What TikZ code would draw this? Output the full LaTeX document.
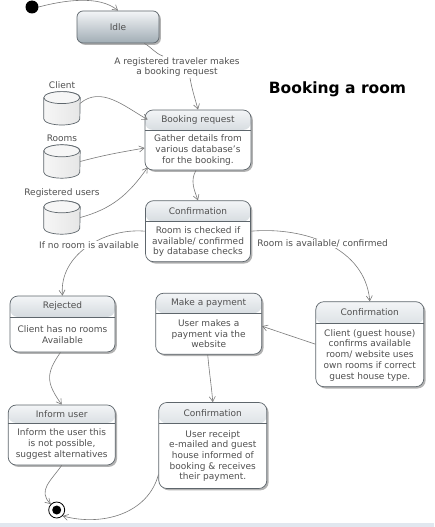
\documentclass[tikz,border=0pt]{standalone}
\usepackage{fontspec}
\setmainfont{DejaVu Sans}
\usetikzlibrary{positioning}
\usetikzlibrary{calc}
\usetikzlibrary{shadows}
\usetikzlibrary{arrows.meta}

\definecolor{boxline}{HTML}{5E666C}
\definecolor{hdtop}{HTML}{F3F5F7}
\definecolor{hdbot}{HTML}{A1ADB5}
\definecolor{txt}{HTML}{505050}
\definecolor{conn}{HTML}{7A7A7A}
\definecolor{dbbody}{HTML}{E6E6E6}
\definecolor{dbend}{HTML}{F6F6F6}
\definecolor{strip}{HTML}{E1E7EF}

% cylinder drawn on the anchors of a named node
\newcommand{\dbcyl}[1]{
	\draw[draw=boxline,line width=0.7pt,left color=dbend,right color=dbbody]
	([yshift=-6pt]#1.north west) -- ([yshift=6pt]#1.south west)
	arc[start angle=180,end angle=360,x radius=18pt,y radius=6pt]
	-- ([yshift=-6pt]#1.north east)
	arc[start angle=0,end angle=180,x radius=18pt,y radius=6pt] -- cycle;
	\draw[draw=boxline,line width=0.7pt,fill=dbend]
	([yshift=-6pt]#1.north west)
	arc[start angle=180,end angle=360,x radius=18pt,y radius=6pt]
	arc[start angle=0,end angle=180,x radius=18pt,y radius=6pt];
}

\begin{document}
\begin{tikzpicture}[x=1pt,y=1pt,
		state/.style={draw=boxline,line width=0.7pt,fill=white,rounded corners=8pt,inner sep=0pt,
				drop shadow={shadow xshift=1.8pt,shadow yshift=-1.8pt,fill=black,opacity=0.3},
				path picture={
						\shade[top color=hdtop,bottom color=hdbot] (path picture bounding box.north west) rectangle ([yshift=-#1]path picture bounding box.north east);
						\draw[boxline,line width=0.6pt] ([yshift=-#1]path picture bounding box.north west) -- ([yshift=-#1]path picture bounding box.north east);
					}},
		state/.default=20pt,
		idlebox/.style={draw=boxline,line width=0.7pt,rounded corners=6pt,top color=hdtop,bottom color=hdbot,
				drop shadow={shadow xshift=1.8pt,shadow yshift=-1.8pt,fill=black,opacity=0.3},
				text=txt,font=\fontsize{9}{10.7}\selectfont},
		stitle/.style={inner sep=0pt,text=txt,font=\fontsize{9}{10.7}\selectfont},
		sbody/.style={inner sep=0pt,align=center,text=txt,font=\fontsize{9}{10.7}\selectfont},
		db/.style={inner sep=0pt,minimum width=36pt,minimum height=33pt},
		dblabel/.style={inner sep=1pt,text=txt,font=\fontsize{9}{10.7}\selectfont},
		guard/.style={fill=white,inner sep=1pt,align=center,text=txt,font=\fontsize{9}{10.7}\selectfont},
		trans/.style={draw=conn,line width=0.6pt,-{Straight Barb[length=5pt,width=6pt]}}
	]
	\useasboundingbox (0,0) rectangle (434,-527);
	\fill[white] (0,0) rectangle (434,-527);
	\fill[strip] (0,-523) rectangle (434,-527);

	% start and idle
	\node[circle,fill=black,minimum size=13pt,inner sep=0pt] (init) at (32,-7) {};
	\node[idlebox,minimum width=82pt,minimum height=32pt] (idle) at (118,-27) {Idle};
	\node[guard] (req) at (177,-67) {A registered traveler makes\\a booking request};

	\node[font=\bfseries\fontsize{15.5}{18}\selectfont] (heading) at (337.5,-89) {Booking a room};

	% databases
	\node[db] (client) at (62,-108.3) {};
	\dbcyl{client}
	\node[dblabel,above=2pt of client] (clientL) {Client};
	\node[db] (rooms) at (62,-161.5) {};
	\dbcyl{rooms}
	\node[dblabel,above=2pt of rooms] (roomsL) {Rooms};
	\node[db] (users) at (62,-217.5) {};
	\dbcyl{users}
	\node[dblabel,above=2pt of users] (usersL) {Registered users};

	% states
	\node[state=20pt,minimum width=106pt,minimum height=60pt] (book) at (198,-140) {};
	\node[stitle] (bookT) at ([yshift=-10pt]book.north) {Booking request};
	\node[sbody] (bookB) at ($(book.south)!0.5!([yshift=-20pt]book.north)$)
	{Gather details from\\various database's\\for the booking.};

	\node[state=21pt,minimum width=105pt,minimum height=61pt] (check) at (198,-231.2) {};
	\node[stitle] (checkT) at ([yshift=-10.5pt]check.north) {Confirmation};
	\node[sbody] (checkB) at ($(check.south)!0.5!([yshift=-21pt]check.north)$)
	{Room is checked if\\available/ confirmed\\by database checks};

	\node[state=21pt,minimum width=105pt,minimum height=56pt] (rej) at (62.5,-324) {};
	\node[stitle] (rejT) at ([yshift=-10.5pt]rej.north) {Rejected};
	\node[sbody] (rejB) at ($(rej.south)!0.5!([yshift=-21pt]rej.north)$)
	{Client has no rooms\\Available};

	\node[state=20pt,minimum width=106pt,minimum height=61pt] (pay) at (208.7,-323.7) {};
	\node[stitle] (payT) at ([yshift=-10pt]pay.north) {Make a payment};
	\node[sbody] (payB) at ($(pay.south)!0.5!([yshift=-20pt]pay.north)$)
	{User makes a\\payment via the\\website};

	\node[state=22pt,minimum width=108pt,minimum height=85pt] (avail) at (369.8,-344.2) {};
	\node[stitle] (availT) at ([yshift=-11pt]avail.north) {Confirmation};
	\node[sbody] (availB) at ($(avail.south)!0.5!([yshift=-22pt]avail.north)$)
	{Client (guest house)\\confirms available\\room/ website uses\\own rooms if correct\\guest house type.};

	\node[state=18pt,minimum width=107pt,minimum height=60pt] (inform) at (61.7,-435) {};
	\node[stitle] (informT) at ([yshift=-9pt]inform.north) {Inform user};
	\node[sbody] (informB) at ($(inform.south)!0.5!([yshift=-18pt]inform.north)$)
	{Inform the user this\\is not possible,\\suggest alternatives};

	\node[state=21pt,minimum width=108pt,minimum height=86pt] (receipt) at (212.8,-445.5) {};
	\node[stitle] (receiptT) at ([yshift=-10.5pt]receipt.north) {Confirmation};
	\node[sbody] (receiptB) at ($(receipt.south)!0.5!([yshift=-21pt]receipt.north)$)
	{User receipt\\e-mailed and guest\\house informed of\\booking \& receives\\their payment.};

	% end
	\node[circle,draw=black,line width=0.8pt,fill=white,minimum size=16pt,inner sep=0pt] (final) at (56.7,-510) {};
	\node[circle,fill=black,minimum size=9pt,inner sep=0pt] (finaldot) at (final.center) {};

	% transitions
	\draw[trans] (init.east) to[out=15,in=140,looseness=0.8] (idle.north);
	\draw[conn,line width=0.6pt] ([xshift=-15pt]idle.south east) to[out=-30,in=160] ([xshift=-14pt]req.north);
	\draw[trans] ([xshift=13pt]req.south) to[out=-80,in=105] (book.north);

	\draw[trans] ([yshift=5pt]client.east) to[out=40,in=150] ([xshift=3pt,yshift=-10pt]book.north west);
	\draw[trans] (rooms.east) to[out=15,in=190] ([yshift=-8pt]book.west);
	\draw[trans] (users.east) to[out=15,in=235] ([xshift=3pt,yshift=3pt]book.south west);

	\draw[trans] ([xshift=-2pt]book.south) to[out=-120,in=110] (check.north);
	\draw[trans] (check.west) to[out=175,in=95] (rej.north);
	\draw[trans] (check.east) to[out=5,in=95] (avail.north);
	\draw[trans] (avail.west) -- ([yshift=-2.5pt]pay.east);
	\draw[trans] ([xshift=-1pt]pay.south) to[out=-85,in=95] (receipt.north);
	\draw[trans] ([xshift=-2pt]rej.south) to[out=-125,in=125,looseness=1.3] (inform.north);
	\draw[trans] (inform.south) to[out=-125,in=135,looseness=1.2] (final.north west);
	\draw[trans] ([yshift=-29pt]receipt.west) to[out=-105,in=-15] (final.south east);

	\node[guard] (noroom) at (89,-245) {If no room is available};
	\node[guard] (isroom) at (322.7,-243.5) {Room is available/ confirmed};
\end{tikzpicture}
\end{document}
